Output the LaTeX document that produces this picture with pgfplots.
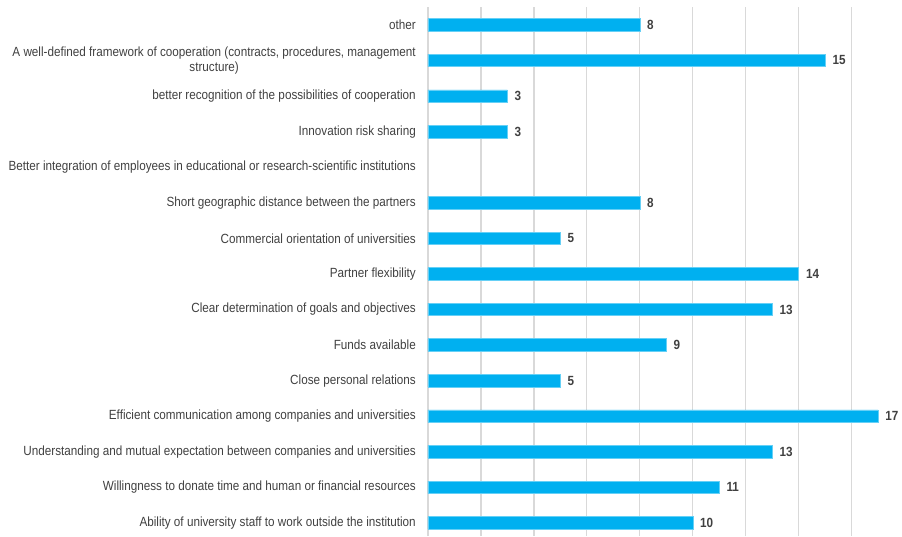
\documentclass[border=0pt]{standalone}
\usepackage{fontspec}
\setmainfont{Liberation Sans}[FakeStretch=0.88]
\usepackage{pgfplots}
\pgfplotsset{compat=1.18}
\definecolor{barblue}{HTML}{00B0F0}
\definecolor{txtgray}{HTML}{404040}
\definecolor{gridgray}{HTML}{D9D9D9}
\begin{document}
\begin{tikzpicture}
\begin{axis}[
  scale only axis,
  width=474pt, height=528.5pt,
  xmin=0, xmax=17.9,
  ymin=-0.37, ymax=14.49,
  xbar, bar width=12.5pt,
  xtick={0,2,...,16}, xticklabels={},
  xmajorgrids, grid style={gridgray, line width=1.2pt},
  axis line style={draw=none},
  major tick length=0pt,
  /pgf/number format/assume math mode=true,
  ytick={0,...,14},
  yticklabels={
    Ability of university staff to work outside the institution,
    Willingness to donate time and human or financial resources,
    Understanding and mutual expectation between companies and universities,
    Efficient communication among companies and universities,
    Close personal relations,
    Funds available,
    Clear determination of goals and objectives,
    Partner flexibility,
    Commercial orientation of universities,
    Short geographic distance between the partners,
    Better integration of employees in educational or research-scientific institutions,
    Innovation risk sharing,
    better recognition of the possibilities of cooperation,
    {A well-defined framework of cooperation (contracts, procedures, management\\structure)},
    other},
  yticklabel style={font=\fontsize{13.3}{15.5}\selectfont, text=txtgray, align=center, inner sep=0pt, xshift=-12pt},
  nodes near coords,
  nodes near coords style={font=\fontsize{13.3}{15.5}\selectfont\bfseries, text=txtgray, anchor=west, inner sep=0pt, xshift=7pt},
]
\addplot[fill=barblue, draw=barblue!60!white, line width=0.6pt] coordinates {
  (10,0) (11,1) (13,2) (17,3) (5,4) (9,5) (13,6) (14,7) (5,8) (8,9) (3,11) (3,12) (15,13) (8,14)
};
\end{axis}
\pgfresetboundingbox
\path[use as bounding box] ([xshift=-428pt]current axis.south west) rectangle ([yshift=7.5pt]current axis.north east);
\end{tikzpicture}
\end{document}
